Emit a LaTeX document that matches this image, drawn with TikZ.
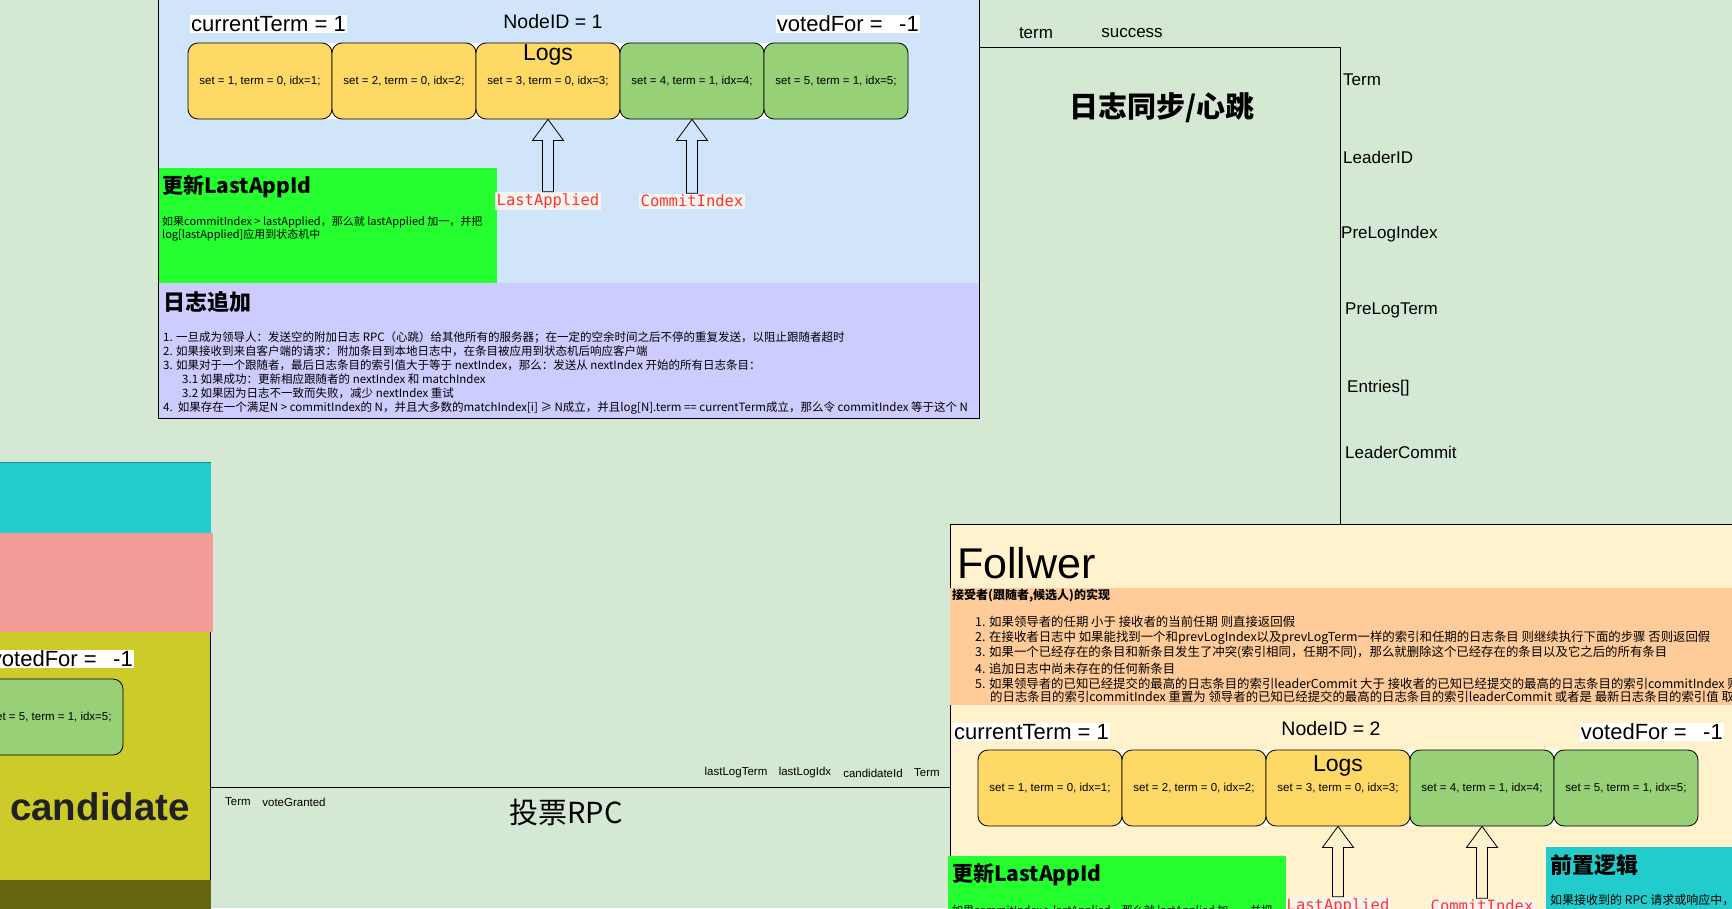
\documentclass[tikz,border=0pt]{standalone}
\usepackage{fontspec}
\setmainfont{Liberation Sans}
\newfontfamily\cjk{Noto Sans CJK SC}
\newfontfamily\monof{DejaVu Sans Mono}
\usetikzlibrary{calc}
\definecolor{bgG}{HTML}{D5E8D4}
\definecolor{panelB}{HTML}{D0E5FA}
\definecolor{cellY}{HTML}{FFD966}
\definecolor{cellG}{HTML}{97D077}
\definecolor{brightG}{HTML}{25FF30}
\definecolor{lilac}{HTML}{CCCCFF}
\definecolor{cream}{HTML}{FFF2CC}
\definecolor{peach}{HTML}{FFCC99}
\definecolor{cyanB}{HTML}{22CCCC}
\definecolor{pinkB}{HTML}{F19C99}
\definecolor{oliveB}{HTML}{CDCB2A}
\definecolor{darkOl}{HTML}{666611}
\definecolor{redT}{HTML}{FF3333}
\definecolor{lblBg}{HTML}{F6F4EE}
\newcommand{\blockarrow}[2]{\draw[blockarr] let \p1=(#1), \p2=(#2) in (\x1,\y1) -- (\x1+15.5pt,\y1-21pt) -- (\x1+5.5pt,\y1-21pt) -- (\x1+5.5pt,\y2) -- (\x1-5.5pt,\y2) -- (\x1-5.5pt,\y1-21pt) -- (\x1-15.5pt,\y1-21pt) -- cycle;}
\tikzset{
  logcell/.style={draw=black, line width=0.8pt, rounded corners=10pt, minimum width=144pt, minimum height=76pt, inner sep=0pt, font=\fontsize{11.5}{14}\selectfont},
  yc/.style={logcell, fill=cellY},
  gc/.style={logcell, fill=cellG},
  hdr/.style={font=\fontsize{22}{26}\selectfont, inner sep=1pt},
  hdrw/.style={hdr, fill=white},
  nid/.style={font=\fontsize{19.5}{24}\selectfont, inner sep=1pt},
  logsl/.style={font=\fontsize{23}{27}\selectfont, inner sep=0pt},
  ptr/.style={font=\monof\fontsize{15.5}{18}\selectfont, text=redT, fill=lblBg, inner sep=1.5pt},
  blockarr/.style={draw=black, line width=0.8pt, line join=miter},
  ttl/.style={font=\cjk\bfseries\fontsize{21}{25}\selectfont, inner sep=0pt, anchor=west},
  body/.style={font=\cjk\fontsize{11.5}{14}\selectfont, inner sep=0pt, anchor=west},
  fbody/.style={font=\cjk\fontsize{12.4}{14}\selectfont, inner sep=0pt, anchor=west},
  small/.style={font=\fontsize{11.5}{14}\selectfont, inner sep=0pt},
  fld/.style={font=\fontsize{17}{20}\selectfont, inner sep=0pt, anchor=west},
  box/.style={draw=black, line width=0.8pt},
}
\newcommand{\vfor}{votedFor =\hspace{0.75em}-1}
\begin{document}
\begin{tikzpicture}[x=1pt, y=-1pt]
\useasboundingbox (0,0) rectangle (1732,908);
\clip (0,0) rectangle (1732,908);
\fill[bgG] (0,0) rectangle (1732,908);

% ---------- leader panel ----------
\fill[panelB] (158,-10) rectangle (979,418);
\fill[brightG] (158,168) rectangle (497,283);
\fill[lilac] (158,283) rectangle (979,418);
\draw[box] (158,-10) rectangle (979,418);

\fill[white] (198,43) rectangle (898,119);
\node[yc] (a1) at (260,81) {set = 1, term = 0, idx=1;};
\node[yc] (a2) at (404,81) {set = 2, term = 0, idx=2;};
\node[yc] (a3) at (548,81) {set = 3, term = 0, idx=3;};
\node[gc] (a4) at (692,81) {set = 4, term = 1, idx=4;};
\node[gc] (a5) at (836,81) {set = 5, term = 1, idx=5;};
\node[logsl] (alogs) at (548,55) {Logs};

\node[hdrw, anchor=west] (act) at (190,24) {currentTerm = 1};
\node[nid] (anid) at (553,22) {NodeID = 1};
\node[hdrw, anchor=east] (avf) at (920,24) {\vfor};

\node[ptr] (ala) at (548,201) {LastApplied};
\node[ptr] (aci) at (692,201) {CommitIndex};
\blockarrow{a3.south}{ala.north}
\blockarrow{a4.south}{aci.north}

\node[ttl] (agt) at (162,187) {更新LastAppId};
\node[body, font=\cjk\fontsize{11}{13}\selectfont] (agb1) at (162,222) {如果commitIndex > lastApplied，那么就 lastApplied 加一，并把};
\node[body, font=\cjk\fontsize{11}{13}\selectfont] (agb2) at (162,235.5) {log[lastApplied]应用到状态机中};

\node[ttl, font=\cjk\bfseries\fontsize{22}{26}\selectfont] (apt) at (163,302) {日志追加};
\node[body] (ap1) at (163,337) {1. 一旦成为领导人：发送空的附加日志 RPC（心跳）给其他所有的服务器；在一定的空余时间之后不停的重复发送，以阻止跟随者超时};
\node[body] (ap2) at (163,351.3) {2. 如果接收到来自客户端的请求：附加条目到本地日志中，在条目被应用到状态机后响应客户端};
\node[body] (ap3) at (163,365.6) {3. 如果对于一个跟随者，最后日志条目的索引值大于等于 nextIndex，那么：发送从 nextIndex 开始的所有日志条目：};
\node[body] (ap4) at (182,379) {3.1 如果成功：更新相应跟随者的 nextIndex 和 matchIndex};
\node[body] (ap5) at (182,393.2) {3.2 如果因为日志不一致而失败，减少 nextIndex 重试};
\node[body] (ap6) at (163,407.6) {4.\ \ 如果存在一个满足N > commitIndex的 N，并且大多数的matchIndex[i] ≥ N成立，并且log[N].term == currentTerm成立，那么令 commitIndex 等于这个 N};

% ---------- append entries RPC ----------
\coordinate (r0) at (979,47);
\coordinate (r1) at (1340,47);
\coordinate (r2) at (1340,524);
\draw[line width=0.8pt] (r0) -- (r1) -- (r2);
\node[font=\fontsize{17}{20}\selectfont, inner sep=0pt] (rterm) at (1036,33) {term};
\node[font=\fontsize{17}{20}\selectfont, inner sep=0pt] (rsucc) at (1132,33) {success};
\node[font=\cjk\bfseries\fontsize{29}{34}\selectfont, inner sep=0pt] (rtitle) at (1162,108) {日志同步/心跳};
\node[fld] (f1) at (1343,80) {Term};
\node[fld] (f2) at (1343,157) {LeaderID};
\node[fld] (f3) at (1341,234) {PreLogIndex};
\node[fld] (f4) at (1345,310) {PreLogTerm};
\node[fld] (f5) at (1347,388) {Entries[]};
\node[fld] (f6) at (1345,452) {LeaderCommit};

% ---------- candidate (left) ----------
\fill[cyanB] (-5,462) rectangle (211,533);
\draw[color=cyanB!70!black, line width=0.6pt] (-5,462) -- (211,462);
\fill[pinkB] (-5,533) rectangle (213,632);
\fill[oliveB] (-5,632) rectangle (210,880);
\draw[line width=0.8pt] (210,632) -- (210,880);
\fill[darkOl] (-5,880) rectangle (211,915);
\node[hdrw, anchor=east] (cvf) at (134,659) {\vfor};
\node[gc] (c5) at (51,717) {set = 5, term = 1, idx=5;};
\node[font=\bfseries\fontsize{38.5}{44}\selectfont, text=black!87, inner sep=0pt] (cand) at (100,807) {candidate};

% ---------- vote RPC ----------
\coordinate (v0) at (210,787);
\coordinate (v1) at (950,787);
\draw[line width=0.8pt] (v0) -- (v1);
\node[small] (vl1) at (736,773) {lastLogTerm};
\node[small] (vl2) at (805,773) {lastLogIdx};
\node[small] (vl3) at (873,773) {candidateId};
\node[small] (vl4) at (927,773) {Term};
\node[small] (vr1) at (238,802) {Term};
\node[small] (vr2) at (294,802) {voteGranted};
\node[font=\cjk\fontsize{29}{34}\selectfont, inner sep=0pt] (vtitle) at (566,812) {投票RPC};

% ---------- follower ----------
\fill[cream] (950,524) rectangle (1745,920);
\draw[box] (950,524) rectangle (1745,920);
\node[font=\fontsize{43}{50}\selectfont, inner sep=0pt, anchor=west] (fol) at (957,563) {Follwer};
\fill[peach] (950,588) rectangle (1745,705);
\node[body, font=\cjk\bfseries\fontsize{12}{14}\selectfont] (fimp) at (952,596) {接受者(跟随者,候选人)的实现};
\node[fbody] (fl1) at (975,622) {1. 如果领导者的任期 小于 接收者的当前任期 则直接返回假};
\node[fbody] (fl2) at (975,637.4) {2. 在接收者日志中 如果能找到一个和prevLogIndex以及prevLogTerm一样的索引和任期的日志条目 则继续执行下面的步骤 否则返回假};
\node[fbody] (fl3) at (975,652.8) {3. 如果一个已经存在的条目和新条目发生了冲突(索引相同，任期不同)，那么就删除这个已经存在的条目以及它之后的所有条目};
\node[fbody] (fl4) at (975,668.3) {4. 追加日志中尚未存在的任何新条目};
\node[fbody] (fl5) at (975,683.7) {5. 如果领导者的已知已经提交的最高的日志条目的索引leaderCommit 大于 接收者的已知已经提交的最高的日志条目的索引commitIndex 则};
\node[fbody] (fl6) at (990,697) {的日志条目的索引commitIndex 重置为 领导者的已知已经提交的最高的日志条目的索引leaderCommit 或者是 最新日志条目的索引值 取};

\fill[white] (988,750) rectangle (1688,826);
\node[yc] (b1) at (1050,788) {set = 1, term = 0, idx=1;};
\node[yc] (b2) at (1194,788) {set = 2, term = 0, idx=2;};
\node[yc] (b3) at (1338,788) {set = 3, term = 0, idx=3;};
\node[gc] (b4) at (1482,788) {set = 4, term = 1, idx=4;};
\node[gc] (b5) at (1626,788) {set = 5, term = 1, idx=5;};
\node[logsl] (blogs) at (1338,766) {Logs};

\node[hdrw, anchor=west] (bct) at (953,732) {currentTerm = 1};
\node[nid] (bnid) at (1331,729) {NodeID = 2};
\node[hdrw, anchor=east] (bvf) at (1724,732) {\vfor};

\node[ptr] (bla) at (1338,906) {LastApplied};
\node[ptr] (bci) at (1482,906) {CommitIndex};
\blockarrow{b3.south}{bla.north}
\blockarrow{b4.south}{bci.north}

\fill[brightG] (948,856) rectangle (1286,920);
\node[ttl] (bgt) at (952,875) {更新LastAppId};
\node[body, font=\cjk\fontsize{11}{13}\selectfont] (bgb1) at (952,911) {如果commitIndex > lastApplied，那么就 lastApplied 加一，并把};

\fill[cyanB] (1546,847) rectangle (1745,920);
\node[ttl, font=\cjk\bfseries\fontsize{22}{26}\selectfont] (pre) at (1550,865) {前置逻辑};
\node[body, font=\cjk\fontsize{12}{14}\selectfont] (preb) at (1550,900) {如果接收到的 RPC 请求或响应中，};
\end{tikzpicture}
\end{document}
